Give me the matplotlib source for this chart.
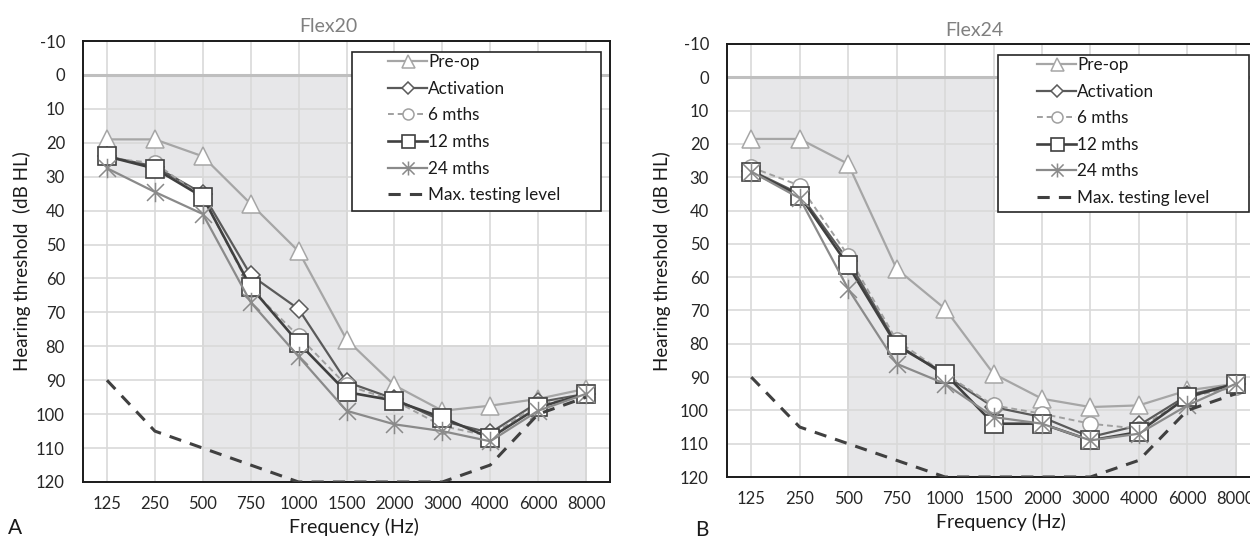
import matplotlib
matplotlib.use('Agg')
import matplotlib.pyplot as plt
from matplotlib.lines import Line2D
from matplotlib.patches import Rectangle, Polygon
from matplotlib.path import Path

plt.rcParams['font.family'] = ['Lato', 'DejaVu Sans']
plt.rcParams['axes.unicode_minus'] = False

freqs = ['125', '250', '500', '750', '1000', '1500', '2000', '3000', '4000', '6000', '8000']
y_ticks = list(range(-10, 121, 10))

# Flex20 (panel A)
flex20_preop = [19, 19, 24, 38, 52, 78, 91.5, 99, 97.5, 95.5, 92.5]
flex20_activation = [24, 27, 35, 59, 69, 90.5, 95.5, 102, 105.5, 96.5, 94]
flex20_6m = [24.5, 26, 36, 63, 77, 91.5, 96, 103.5, 106.5, 97, 94.5]
flex20_12m = [24, 27.6, 36, 62.5, 79, 93.5, 96, 101, 107, 98, 94]
flex20_24m = [27.5, 34.5, 41, 67, 83, 99, 103, 105, 108, 99, 94]

# Flex24 (panel B)
flex24_preop = [18.5, 18.5, 26, 57.5, 69.5, 89, 96.5, 99, 98.5, 94, 92]
flex24_activation = [28, 35, 55, 80, 89.5, 99, 102, 108, 104.5, 95.5, 92]
flex24_6m = [27, 32.5, 53.5, 79, 89, 98.5, 101, 104, 105.5, 96, 93]
flex24_12m = [28.3, 35.5, 56.5, 80.5, 89, 104, 104, 109, 106.5, 96, 92]
flex24_24m = [28.3, 36.3, 63.5, 86, 92, 102, 104, 109, 107, 98.5, 92]

max_level = [90, 105, 110, 115, 120, 120, 120, 120, 115, 100, 95]

# shaded speech area outline (category index, dB)
shade_outline = [(0, 0), (5, 0), (5, 80), (10, 80), (10, 120), (2, 120), (2, 30), (0, 30)]

star = Path([(-1, -1), (1, 1), (-1, 1), (1, -1), (0, -1.15), (0, 1.15)],
            [Path.MOVETO, Path.LINETO] * 3)

styles = {
    'Pre-op': dict(color='#a6a6a6', lw=1.6, marker='^', ms=13, mfc='white', mew=1.1),
    'Activation': dict(color='#5a5a5a', lw=1.6, marker='D', ms=9, mfc='white', mew=1.1),
    '6 mths': dict(color='#a0a0a0', lw=1.4, ls=(0, (3, 2)), marker='o', ms=11, mfc='white', mew=1.1),
    '12 mths': dict(color='#404040', lw=1.9, marker='s', ms=13, mfc='white', mew=1.2),
    '24 mths': dict(color='#8a8a8a', lw=1.6, marker=star, ms=14, mfc='none', mew=1.1),
    'Max. testing level': dict(color='#404040', lw=2.2, ls=(0, (4, 3))),
}


def draw_panel(ax, series):
    x = list(range(len(freqs)))
    ax.add_patch(Polygon(shade_outline, closed=True, facecolor='#e7e7e9', edgecolor='#d0d0d0',
                         lw=1.3, zorder=0.2))
    ax.axhline(0, color='#bfbfbf', lw=2.2, zorder=0.6)
    for name, vals in series:
        ax.plot(x, vals, label=name, zorder=3, **styles[name])
    ax.set_xlim(-0.5, 10.5)
    ax.set_ylim(120, -10)
    ax.set_xticks(x)
    ax.set_xticklabels(freqs)
    ax.set_yticks(y_ticks)
    ax.set_axisbelow(True)
    ax.grid(True, color='#d9d9d9', lw=1.2)
    ax.tick_params(length=0, labelsize=12, colors='#262626')
    ax.tick_params(axis='y', pad=13)
    ax.tick_params(axis='x', pad=10)
    for s in ax.spines.values():
        s.set_color('#1a1a1a')
        s.set_linewidth(1.4)


fig = plt.figure(figsize=(12.5, 5.38), dpi=100)
W, H = 1250, 538

axL = fig.add_axes([83 / W, 1 - 482 / H, 527 / W, 441 / H])
axR = fig.add_axes([727 / W, 1 - 477 / H, 533 / W, 433 / H])

seriesL = [('Pre-op', flex20_preop), ('Activation', flex20_activation), ('6 mths', flex20_6m),
           ('12 mths', flex20_12m), ('24 mths', flex20_24m), ('Max. testing level', max_level)]
seriesR = [('Pre-op', flex24_preop), ('Activation', flex24_activation), ('6 mths', flex24_6m),
           ('12 mths', flex24_12m), ('24 mths', flex24_24m), ('Max. testing level', max_level)]

draw_panel(axL, seriesL)
draw_panel(axR, seriesR)


def add_legend(ax, box, anchor):
    ax.add_patch(Rectangle((box[0], box[1]), box[2] - box[0], box[3] - box[1],
                           transform=ax.transAxes, facecolor='white', edgecolor='#262626',
                           lw=1.2, zorder=5))
    handles = []
    for name in ['Pre-op', 'Activation', '6 mths', '12 mths', '24 mths', 'Max. testing level']:
        st = dict(styles[name])
        if 'ms' in st:
            st['ms'] = st['ms'] * 0.72
        handles.append(Line2D([], [], label=name, **st))
    leg = ax.legend(handles=handles, loc='upper left', bbox_to_anchor=anchor, frameon=False,
                    fontsize=12.3, handlelength=2.3, handletextpad=0.05, labelspacing=0.62,
                    borderpad=0, borderaxespad=0)
    leg.set_zorder(6)
    for t in leg.get_texts():
        t.set_color('#1a1a1a')


add_legend(axL, (0.5104, 0.6145, 0.983, 0.975), (0.579, 0.970))
add_legend(axR, (0.508, 0.612, 0.979, 0.9746), (0.5816, 0.970))

fig.text(328 / W, 1 - 26 / H, 'Flex20', ha='center', va='center', fontsize=14, color='#808080')
fig.text(974 / W, 1 - 30 / H, 'Flex24', ha='center', va='center', fontsize=14, color='#808080')

fig.text(354 / W, 1 - 527 / H, 'Frequency (Hz)', ha='center', va='center', fontsize=14, color='#1a1a1a')
fig.text(1001 / W, 1 - 522 / H, 'Frequency (Hz)', ha='center', va='center', fontsize=14, color='#1a1a1a')

fig.text(22 / W, 1 - 261 / H, 'Hearing threshold  (dB HL)', rotation=90, ha='center', va='center',
         fontsize=13.5, color='#1a1a1a')
fig.text(662 / W, 1 - 261 / H, 'Hearing threshold  (dB HL)', rotation=90, ha='center', va='center',
         fontsize=13.5, color='#1a1a1a')

fig.text(15 / W, 1 - 528 / H, 'A', ha='center', va='center', fontsize=15, color='#1a1a1a')
fig.text(702 / W, 1 - 530 / H, 'B', ha='center', va='center', fontsize=15, color='#1a1a1a')

fig.savefig('out.png', dpi=100)
